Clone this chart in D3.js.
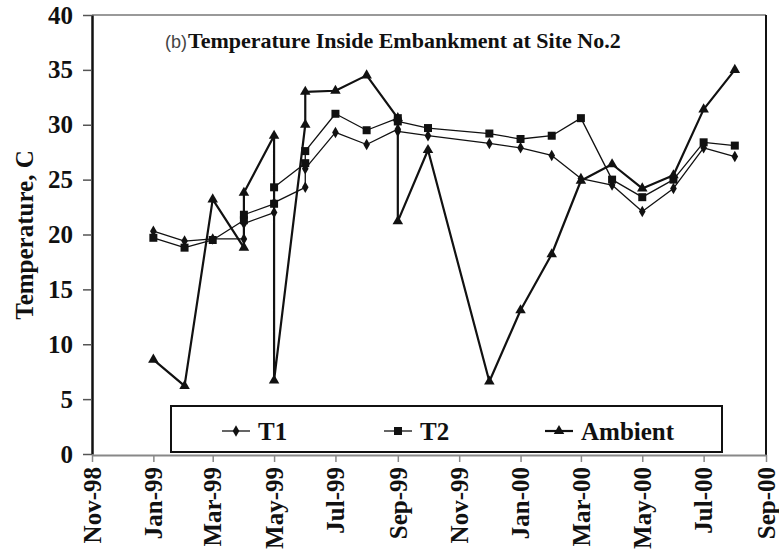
<!DOCTYPE html>
<html>
<head>
<meta charset="utf-8">
<script src="https://cdnjs.cloudflare.com/ajax/libs/d3/7.8.5/d3.min.js"></script>
<style>
  body { margin: 0; background: #fff; }
  text { font-family: "Liberation Serif", "Times New Roman", serif; fill: #111; }
</style>
</head>
<body>
<div class="main"></div>
<script>
// sampling dates (repeated dates = two readings taken on the same visit)
const dates = ["1999-01-01","1999-02-01","1999-03-01","1999-04-01","1999-04-01","1999-05-01","1999-05-01",
  "1999-06-01","1999-06-01","1999-07-01","1999-08-01","1999-09-01","1999-09-01","1999-10-01","1999-12-01",
  "2000-01-01","2000-02-01","2000-03-01","2000-04-01","2000-05-01","2000-06-01","2000-07-01","2000-08-01"];
const t1 = [20.3, 19.4, 19.6, 19.6, 21.0, 22.0, 22.9, 24.3, 26.0, 29.3, 28.2, 29.6, 29.4, 29.0, 28.3,
  27.9, 27.2, 25.1, 24.5, 22.1, 24.2, 27.9, 27.1];
const t2 = [19.7, 18.8, 19.5, 21.3, 21.8, 22.8, 24.3, 26.5, 27.6, 31.0, 29.5, 30.6, 30.3, 29.7, 29.2,
  28.7, 29.0, 30.6, 25.0, 23.4, 25.0, 28.4, 28.1];
const ambient = [8.6, 6.2, 23.2, 18.8, 23.8, 29.0, 6.7, 30.0, 33.0, 33.1, 34.5, 30.6, 21.2, 27.7, 6.6,
  13.1, 18.2, 24.9, 26.4, 24.2, 25.4, 31.4, 35.0];
const tickDates = ["1998-11-01","1999-01-01","1999-03-01","1999-05-01","1999-07-01","1999-09-01","1999-11-01",
  "2000-01-01","2000-03-01","2000-05-01","2000-07-01","2000-09-01"];
const yTicks = [0, 5, 10, 15, 20, 25, 30, 35, 40];
const seriesNames = ["T1", "T2", "Ambient"];

const w = 779, h = 550;
const padL = 92, padR = 766, padT = 15, padB = 454;
const parse = d3.utcParse("%Y-%m-%d");
const fmt = d3.utcFormat("%b-%y");

const svg = d3.select(".main").append("svg")
  .attr("width", w)
  .attr("height", h);

const xScale = d3.scaleUtc()
  .domain([parse(tickDates[0]), parse(tickDates[tickDates.length - 1])])
  .range([padL, padR]);

const yScale = d3.scaleLinear()
  .domain([0, 40])
  .range([padB, padT]);

// frame: top grey, right black
svg.append("line")
  .attr("x1", padL).attr("x2", padR).attr("y1", padT).attr("y2", padT)
  .attr("stroke", "#999").attr("stroke-width", 2);
svg.append("line")
  .attr("x1", padR).attr("x2", padR).attr("y1", padT).attr("y2", padB + 1)
  .attr("stroke", "#111").attr("stroke-width", 2);

const xAxis = d3.axisBottom(xScale)
  .tickValues(tickDates.map(parse))
  .tickFormat(fmt)
  .tickSize(7)
  .tickSizeOuter(0);

const gx = svg.append("g")
  .attr("transform", "translate(0," + (padB + 1) + ")")
  .call(xAxis);
gx.select(".domain").attr("stroke", "#888").attr("stroke-width", 2);
gx.selectAll(".tick line").attr("stroke", "#888").attr("stroke-width", 1.5);
gx.selectAll(".tick text")
  .attr("font-size", "25px")
  .attr("font-weight", "bold")
  .attr("font-family", "Liberation Serif")
  .attr("transform", "rotate(-90)")
  .attr("text-anchor", "end")
  .attr("x", -12)
  .attr("y", 0)
  .attr("dy", "0.33em");

const yAxis = d3.axisLeft(yScale)
  .tickValues(yTicks)
  .tickSize(9)
  .tickPadding(10)
  .tickSizeOuter(0);

const gy = svg.append("g")
  .attr("transform", "translate(" + padL + ",0)")
  .call(yAxis);
gy.select(".domain").attr("stroke", "#111").attr("stroke-width", 2.5);
gy.selectAll(".tick line").attr("stroke", "#555").attr("stroke-width", 1.5);
gy.selectAll(".tick text")
  .attr("font-size", "25px")
  .attr("font-weight", "bold")
  .attr("font-family", "Liberation Serif");

// axis title
svg.append("text")
  .attr("transform", "rotate(-90)")
  .attr("x", -235)
  .attr("y", 33)
  .attr("text-anchor", "middle")
  .attr("font-size", "25px")
  .attr("font-weight", "bold")
  .text("Temperature, C");

// chart title
const title = svg.append("text")
  .attr("x", 165)
  .attr("y", 48)
  .attr("font-size", "22px");
title.append("tspan")
  .attr("font-family", "Liberation Sans, sans-serif")
  .attr("font-size", "18px")
  .attr("fill", "#444")
  .text("(b)");
title.append("tspan")
  .attr("dx", 1)
  .attr("font-weight", "bold")
  .text("Temperature Inside Embankment at Site No.2");

// series
const series = [
  { name: seriesNames[0], values: t1, symbol: d3.symbolDiamond, size: 38, width: 1.3 },
  { name: seriesNames[1], values: t2, symbol: d3.symbolSquare, size: 64, width: 1.3 },
  { name: seriesNames[2], values: ambient, symbol: d3.symbolTriangle, size: 48, width: 2.2 }
];

const line = d3.line()
  .x((d) => xScale(d.date))
  .y((d) => yScale(d.v));

series.forEach((s) => {
  const pts = dates.map((d, i) => ({ date: parse(d), v: s.values[i] }));
  svg.append("path")
    .datum(pts)
    .attr("fill", "none")
    .attr("stroke", "#111")
    .attr("stroke-width", s.width)
    .attr("stroke-linejoin", "round")
    .attr("d", line);
  svg.selectAll(null)
    .data(pts)
    .enter()
    .append("path")
    .attr("d", d3.symbol().type(s.symbol).size(s.size))
    .attr("transform", (d) => "translate(" + xScale(d.date) + "," + yScale(d.v) + ")")
    .attr("fill", "#111");
});

// legend
svg.append("rect")
  .attr("x", 171)
  .attr("y", 406)
  .attr("width", 551)
  .attr("height", 46)
  .attr("fill", "#fff")
  .attr("stroke", "#111")
  .attr("stroke-width", 2);

const legendX = [222, 384, 545];
series.forEach((s, i) => {
  const lx = legendX[i];
  const ly = 431;
  svg.append("line")
    .attr("x1", lx).attr("x2", lx + 28).attr("y1", ly).attr("y2", ly)
    .attr("stroke", "#111").attr("stroke-width", s.width);
  svg.append("path")
    .attr("d", d3.symbol().type(s.symbol).size(s.size))
    .attr("transform", "translate(" + (lx + 14) + "," + ly + ")")
    .attr("fill", "#111");
  svg.append("text")
    .attr("x", lx + 36)
    .attr("y", ly + 9)
    .attr("font-size", "25px")
    .attr("font-weight", "bold")
    .text(s.name);
});
</script>
</body>
</html>
